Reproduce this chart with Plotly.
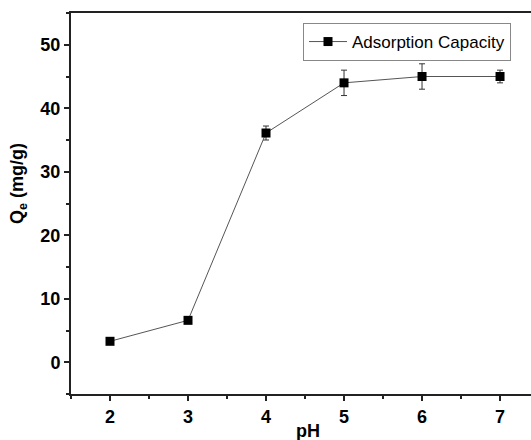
import plotly.graph_objects as go

ph = [2, 3, 4, 5, 6, 7]
qe = [3.3, 6.6, 36.1, 44.0, 45.0, 45.0]
err = [0, 0, 1.1, 2.0, 2.0, 1.0]
x_ticks = [2, 3, 4, 5, 6, 7]
y_ticks = [0, 10, 20, 30, 40, 50]

fig = go.Figure()
fig.add_trace(go.Scatter(
    x=ph, y=qe, mode="lines+markers", name="Adsorption Capacity",
    line=dict(color="#555555", width=1),
    marker=dict(symbol="square", size=9, color="black"),
    error_y=dict(type="data", array=err, visible=True, color="#333333", thickness=1, width=3),
))

font = "Liberation Sans, Arial, sans-serif"
L, T, B, W, H = 71, 13, 46, 531, 440
ph_h = H - T - B
pw = W - L

fig.update_layout(
    width=W, height=H,
    margin=dict(l=L, r=0, t=T, b=B),
    plot_bgcolor="white", paper_bgcolor="white",
    font=dict(family=font, color="black"),
    showlegend=True,
    legend=dict(x=(303 - L) / pw, y=(H - B - 23) / ph_h, xanchor="left", yanchor="top",
                bordercolor="#888888", borderwidth=1, bgcolor="rgba(255,255,255,0)",
                font=dict(size=17, family=font), itemwidth=38,
                tracegroupgap=0),
    xaxis=dict(range=[1.5, 7.397], tickvals=x_ticks, showgrid=False, zeroline=False,
               showline=True, linecolor="#222222", linewidth=2, mirror=True,
               ticks="outside", ticklen=5, tickwidth=1.5, tickcolor="#222222",
               tickfont=dict(size=18, family=font, weight="bold"),
               minor=dict(dtick=0.5, ticks="outside", ticklen=3, tickwidth=1.5, tickcolor="#222222")),
    yaxis=dict(range=[-5, 55], tickvals=y_ticks, showgrid=False, zeroline=False,
               showline=True, linecolor="#222222", linewidth=2,
               ticks="outside", ticklen=5, tickwidth=1.5, tickcolor="#222222",
               tickfont=dict(size=18, family=font, weight="bold"),
               minor=dict(dtick=5, ticks="outside", ticklen=3, tickwidth=1.5, tickcolor="#222222")),
    annotations=[
        dict(text="<b>pH</b>", xref="paper", yref="paper",
             x=(308 - L) / pw, y=(H - B - 419) / ph_h, xanchor="center", yanchor="top",
             showarrow=False, font=dict(size=18, family=font)),
        dict(text="<b>Q<sub>e</sub> (mg/g)</b>", xref="paper", yref="paper", textangle=-90,
             x=(18 - L) / pw, y=(H - B - 184) / ph_h, xanchor="center", yanchor="middle",
             showarrow=False, font=dict(size=18, family=font)),
    ],
)

fig.write_html("out.html", config={"displayModeBar": False},
               post_script="document.body.style.margin='0';document.body.style.overflow='hidden';")
